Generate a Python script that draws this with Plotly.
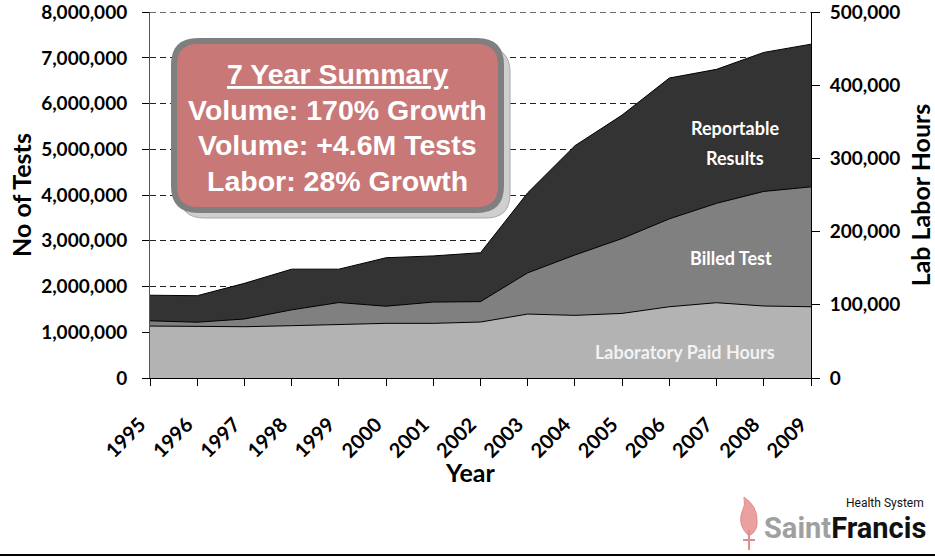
import plotly.graph_objects as go

# ---- data ----
years = list(range(1995, 2010))
reportable_results = [1.81e6, 1.80e6, 2.07e6, 2.38e6, 2.38e6, 2.63e6, 2.67e6, 2.74e6,
                      4.05e6, 5.08e6, 5.75e6, 6.56e6, 6.75e6, 7.12e6, 7.30e6]
billed_tests = [1.25e6, 1.22e6, 1.29e6, 1.49e6, 1.65e6, 1.57e6, 1.66e6, 1.67e6,
                2.30e6, 2.69e6, 3.05e6, 3.48e6, 3.82e6, 4.08e6, 4.18e6]
lab_paid_hours = [71000, 70100, 70100, 71500, 73300, 74700, 74700, 76500,
                  87400, 85600, 88300, 97400, 102900, 98400, 97400]
left_ticks = [0, 1e6, 2e6, 3e6, 4e6, 5e6, 6e6, 7e6, 8e6]
right_ticks = [0, 100000, 200000, 300000, 400000, 500000]
summary_lines = ["<u>7 Year Summary</u>", "Volume: 170% Growth",
                 "Volume: +4.6M Tests", "Labor: 28% Growth"]

# ---- layout geometry (pixels) ----
W, H = 935, 559
L, R, T, B = 150, 124, 12, 181
PW, PH = W - L - R, H - T - B
FONT = "Lato, 'Open Sans', sans-serif"


def pp(x, y):
    return (x - L) / PW, (H - B - y) / PH


def rrect(x0, y0, x1, y1, r):
    pts = [("M", [(x0 + r, y0)]), ("L", [(x1 - r, y0)]), ("Q", [(x1, y0), (x1, y0 + r)]),
           ("L", [(x1, y1 - r)]), ("Q", [(x1, y1), (x1 - r, y1)]), ("L", [(x0 + r, y1)]),
           ("Q", [(x0, y1), (x0, y1 - r)]), ("L", [(x0, y0 + r)]), ("Q", [(x0, y0), (x0 + r, y0)])]
    s = ""
    for cmd, ps in pts:
        s += cmd + " " + " ".join("%.5f,%.5f" % pp(*p) for p in ps) + " "
    return s + "Z"


def poly(cmds):
    s = ""
    for cmd, ps in cmds:
        s += cmd + " " + " ".join("%.5f,%.5f" % pp(*p) for p in ps) + " "
    return s + "Z"


fig = go.Figure()
fig.add_trace(go.Scatter(x=years, y=reportable_results, mode="lines", fill="tozeroy",
                         fillcolor="#333333", line=dict(color="#000000", width=1),
                         name="Reportable Results", yaxis="y"))
fig.add_trace(go.Scatter(x=years, y=billed_tests, mode="lines", fill="tozeroy",
                         fillcolor="#808080", line=dict(color="#000000", width=1),
                         name="Billed Test", yaxis="y"))
fig.add_trace(go.Scatter(x=years, y=lab_paid_hours, mode="lines", fill="tozeroy",
                         fillcolor="#b3b3b3", line=dict(color="#000000", width=1),
                         name="Laboratory Paid Hours", yaxis="y2"))

tickfont = dict(family=FONT, size=19, color="#000000", weight="bold")
xtickfont = dict(family=FONT, size=20, color="#000000", weight="bold")
titlefont = dict(family=FONT, size=25, color="#000000", weight="bold")

shapes = []
# top dashed gridline (at 8,000,000)
shapes.append(dict(type="line", xref="paper", yref="y", layer="below",
                   x0=0, x1=1, y0=left_ticks[-1], y1=left_ticks[-1],
                   line=dict(color="#222222", width=1, dash="6px,4px")))
# summary box shadow and box
shapes.append(dict(type="path", xref="paper", yref="paper", layer="above",
                   path=rrect(180, 48, 510, 218, 24), fillcolor="#cfcfcf",
                   line=dict(color="#a8a8a8", width=1)))
shapes.append(dict(type="path", xref="paper", yref="paper", layer="above",
                   path=rrect(174, 41, 501, 210, 24), fillcolor="#c97878",
                   line=dict(color="#7f7f7f", width=6)))
# flame logo
shapes.append(dict(type="path", xref="paper", yref="paper", layer="above",
                   path=poly([("M", [(749, 536)]), ("Q", [(737, 525), (742, 512)]),
                              ("Q", [(746, 505), (744, 497)]), ("Q", [(758, 507), (757, 521)]),
                              ("Q", [(758, 531), (749, 536)])]),
                   fillcolor="#eaa0a0", line=dict(color="#e08c8c", width=1)))
shapes.append(dict(type="line", xref="paper", yref="paper", layer="above",
                   x0=pp(749, 530)[0], y0=pp(749, 530)[1], x1=pp(749, 550)[0], y1=pp(749, 550)[1],
                   line=dict(color="#e08c8c", width=2)))
shapes.append(dict(type="line", xref="paper", yref="paper", layer="above",
                   x0=pp(743, 540)[0], y0=pp(743, 540)[1], x1=pp(755, 540)[0], y1=pp(755, 540)[1],
                   line=dict(color="#e08c8c", width=2)))
# bottom rule
shapes.append(dict(type="line", xref="paper", yref="paper", layer="above",
                   x0=pp(0, 555)[0], y0=pp(0, 555)[1], x1=pp(935, 555)[0], y1=pp(935, 555)[1],
                   line=dict(color="#000000", width=2)))

annotations = []
box_y = [74, 110, 145, 181]
for txt, yy in zip(summary_lines, box_y):
    x, y = pp(337, yy)
    annotations.append(dict(text="<b>%s</b>" % txt, x=x, y=y, xref="paper", yref="paper",
                            showarrow=False, xanchor="center", yanchor="middle",
                            font=dict(family="Liberation Sans, Arial, sans-serif", size=28.5,
                                      color="#ffffff")))

area_labels = [("Reportable", 735, 128, "#ffffff"), ("Results", 735, 158, "#ffffff"),
               ("Billed Test", 731, 258, "#ffffff"), ("Laboratory Paid Hours", 685, 352, "#f2f2f2")]
for txt, xx, yy, col in area_labels:
    x, y = pp(xx, yy)
    annotations.append(dict(text=txt, x=x, y=y, xref="paper", yref="paper", showarrow=False,
                            xanchor="center", yanchor="middle",
                            font=dict(family=FONT, size=18, color=col, weight="bold")))

# x-axis title
x, y = pp(470, 472)
annotations.append(dict(text="Year", x=x, y=y, xref="paper", yref="paper", showarrow=False,
                        xanchor="center", yanchor="middle", font=titlefont))

# logo text
x, y = pp(928, 528)
annotations.append(dict(text="<span style='color:#a0a0a0'>Saint</span><span style='color:#111111'>Francis</span>",
                        x=x, y=y, xref="paper", yref="paper", showarrow=False,
                        xanchor="right", yanchor="middle",
                        font=dict(family="Roboto, sans-serif", size=29, weight="bold")))
x, y = pp(926, 503)
annotations.append(dict(text="Health System", x=x, y=y, xref="paper", yref="paper",
                        showarrow=False, xanchor="right", yanchor="middle",
                        font=dict(family="Roboto, sans-serif", size=12, color="#111111")))

fig.update_layout(
    width=W, height=H,
    margin=dict(l=L, r=R, t=T, b=B, autoexpand=False),
    paper_bgcolor="#ffffff", plot_bgcolor="#ffffff",
    showlegend=False,
    xaxis=dict(range=[1995, 2009], tickvals=years, ticktext=[str(y) for y in years],
               tickangle=-45, tickfont=xtickfont, ticks="outside", ticklen=7,
               tickcolor="#000000", showline=True, linecolor="#000000", linewidth=1,
               showgrid=False, zeroline=False, ticklabeloverflow="allow",
               ticklabelstandoff=19, ticklabelshift=-10),
    yaxis=dict(range=[0, 8e6 * 1.0005], tickvals=left_ticks, tickformat=",d", tickfont=tickfont,
               ticks="outside", ticklen=7, tickcolor="#000000", ticklabelstandoff=11,
               showline=True, linecolor="#555555", linewidth=1, ticklabeloverflow="allow",
               showgrid=True, gridcolor="#222222", gridwidth=1, griddash="6px,4px",
               zeroline=False,
               title=dict(text="No of Tests", font=titlefont, standoff=2)),
    yaxis2=dict(range=[0, 500000 * 1.0005], tickvals=right_ticks, tickformat=",d", tickfont=tickfont,
                overlaying="y", side="right", ticks="outside", ticklen=8,
                tickcolor="#000000", ticklabelstandoff=6, ticklabeloverflow="allow",
                showline=True, linecolor="#000000", linewidth=1, showgrid=False,
                zeroline=False,
                title=dict(text="Lab Labor Hours", font=titlefont, standoff=14)),
    shapes=shapes,
    annotations=annotations,
)

fig.write_html("out.html", config={"displayModeBar": False},
               post_script="document.body.style.margin='0px';document.body.style.padding='0px';")
